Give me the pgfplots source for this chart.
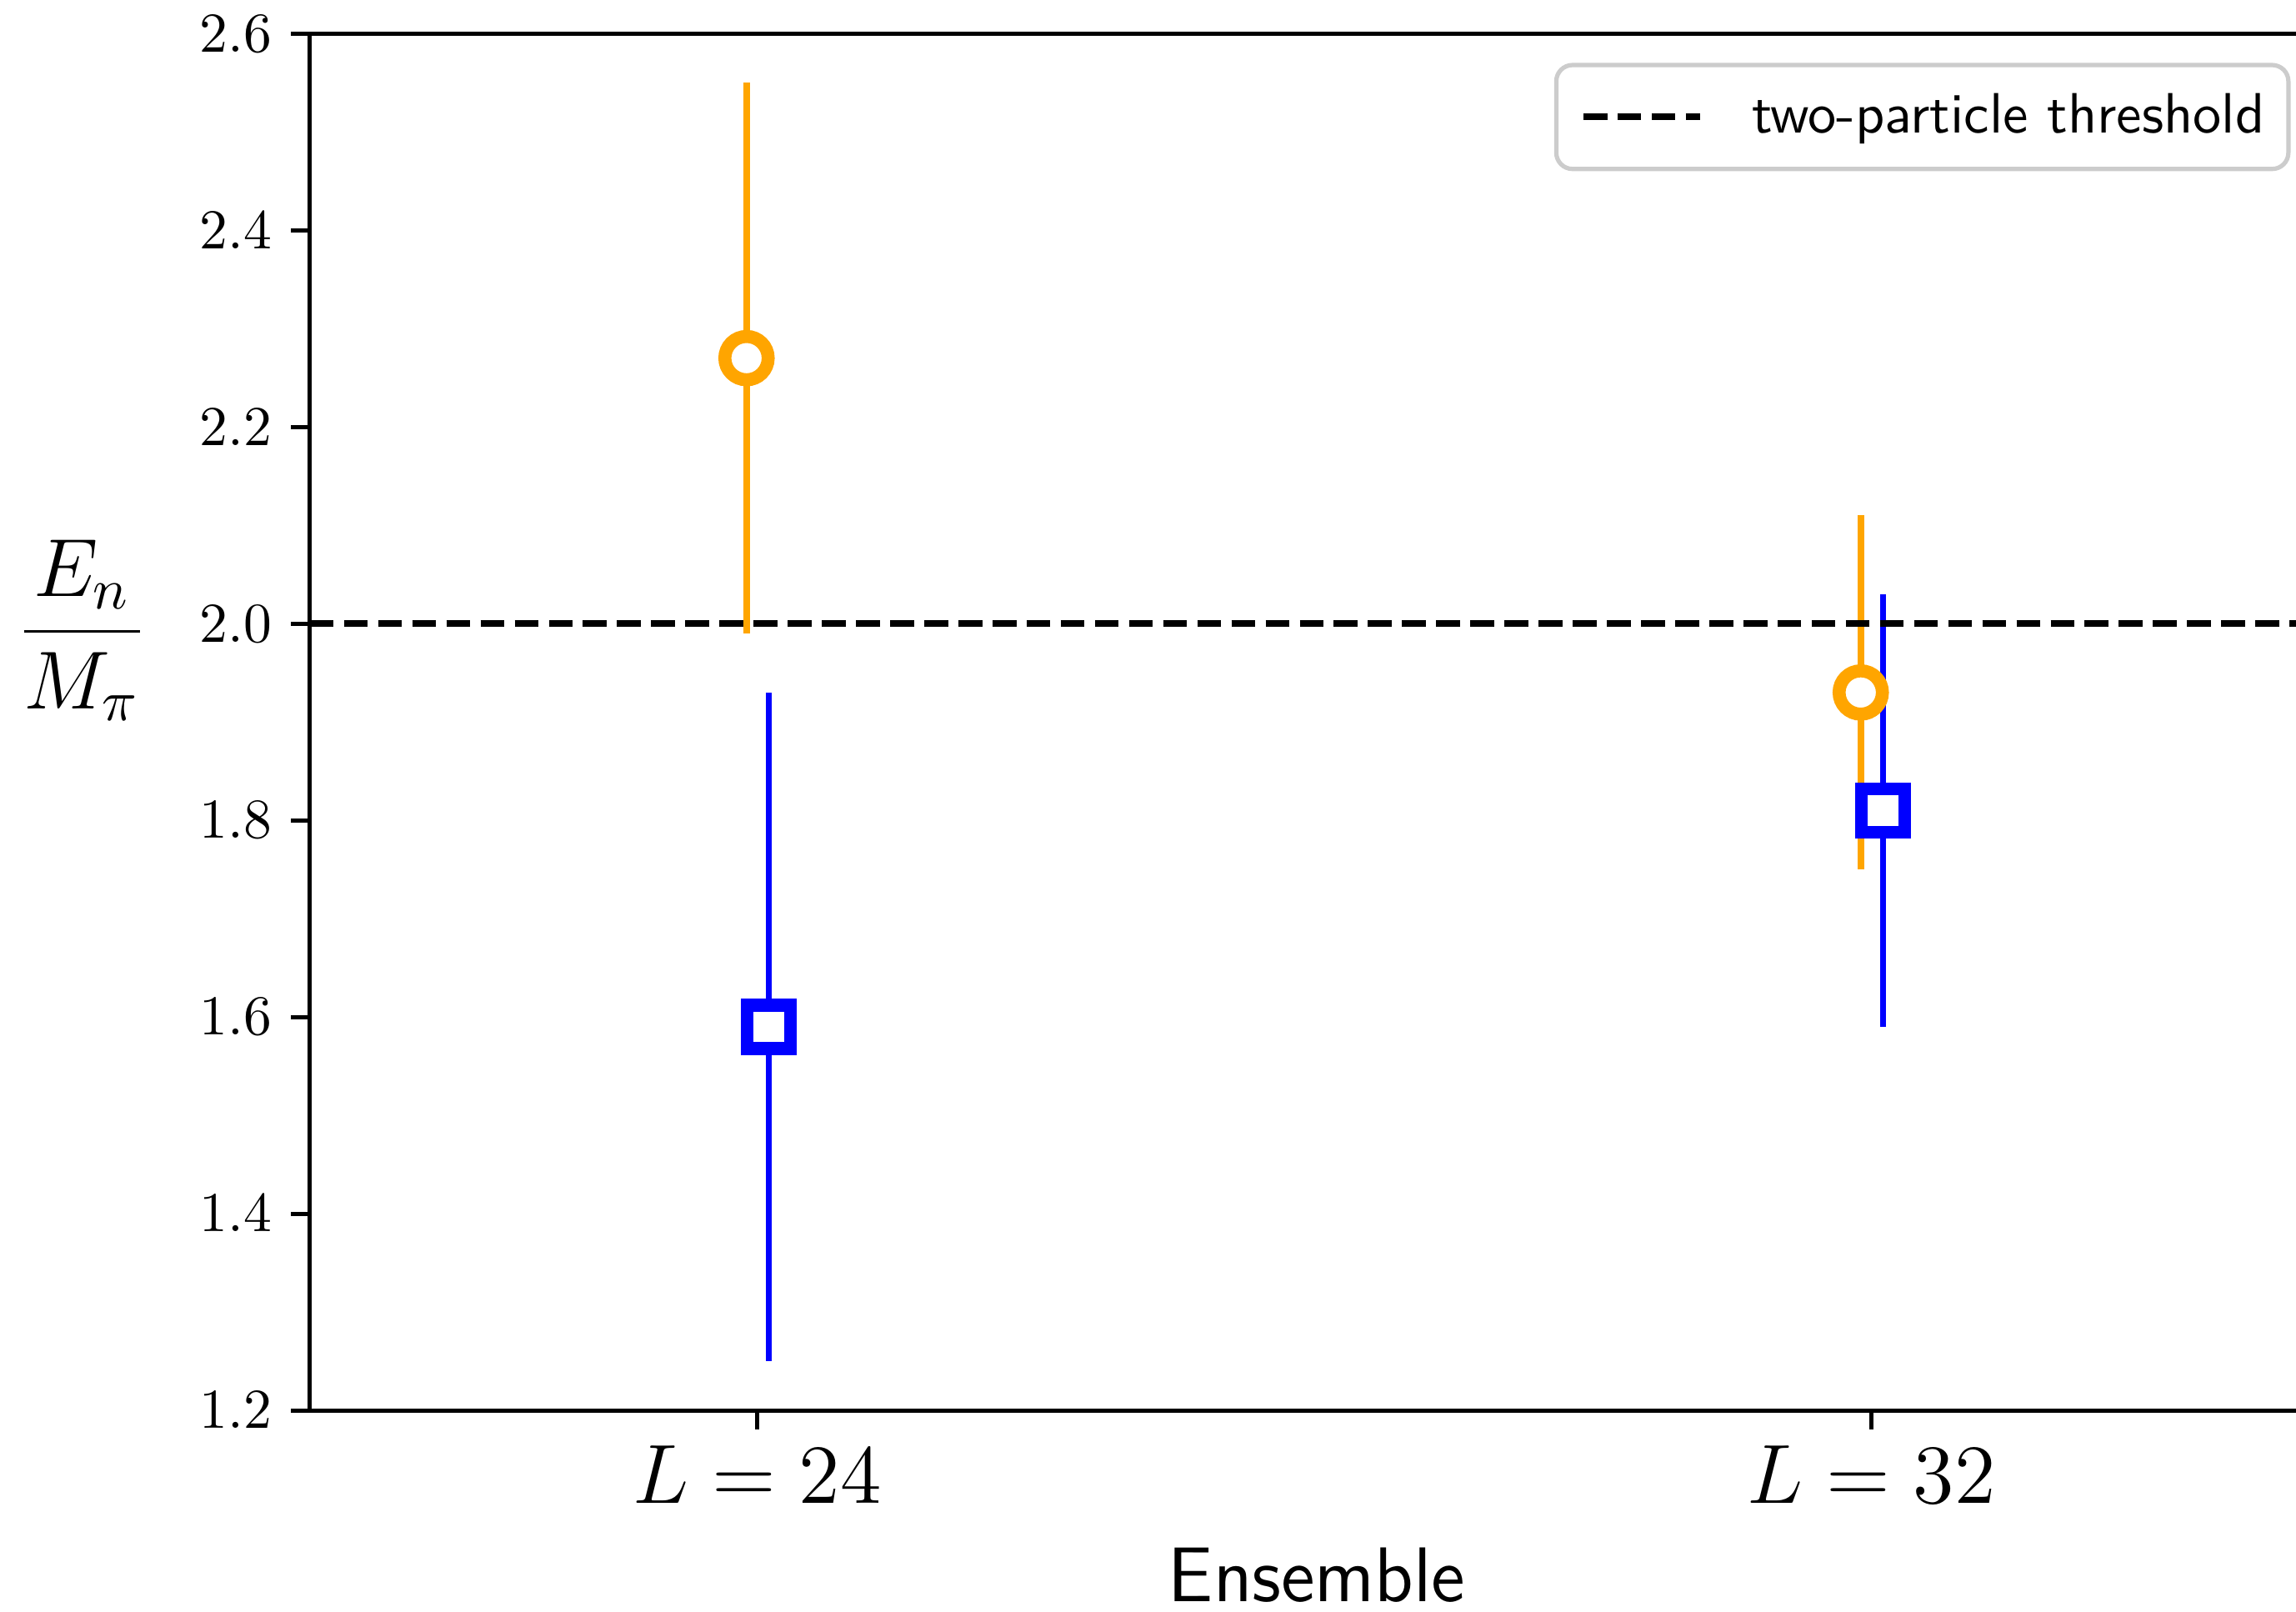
\RequirePackage{fix-cm}
\documentclass[border=0pt]{standalone}
\usepackage{pgfplots}
\pgfplotsset{compat=1.18}
\definecolor{mplorange}{HTML}{FFA500}
\definecolor{mplblue}{HTML}{0000FF}

\begin{document}
\begin{tikzpicture}
\begin{axis}[
  width=366.6pt, height=254.1pt, scale only axis,
  xmin=20.79, xmax=35.05, ymin=1.2, ymax=2.6,
  axis x line*=box, axis y line*=left,
  axis line style={line width=0.8pt},
  xtick={24,32}, xticklabels={$L=24$,$L=32$}, xtick pos=bottom,
  ytick={1.2,1.4,1.6,1.8,2.0,2.2,2.4,2.6}, ytick pos=left,
  tick align=outside, major tick length=3.5pt,
  tick style={line width=0.8pt, black},
  yticklabel style={font=\fontsize{10.4}{12}\selectfont,
    /pgf/number format/.cd, fixed, fixed zerofill, precision=1},
  xticklabel style={font=\fontsize{15.5}{18}\selectfont, inner sep=0pt, yshift=-2.8pt},
  xlabel={Ensemble},
  xlabel style={font=\sffamily\fontsize{14.3}{17}\selectfont, at={(axis description cs:0.507,0)},
    anchor=north, inner sep=0pt, yshift=-25.2pt},
  legend style={at={(rel axis cs:1,1)}, anchor=north east, xshift=-1.0pt, yshift=-5.4pt,
    draw=black!20, line width=0.8pt, rounded corners=3pt, fill=white,
    font=\sffamily\fontsize{10.5}{12}\selectfont, inner xsep=4.4pt, inner ysep=5.2pt,
    nodes={inner sep=0pt}, column sep=9pt},
  legend image code/.code={\draw[#1] (0pt,0pt) -- (21.5pt,0pt);},
]
% L=24 / L=32 levels, orange circles
\addplot[forget plot, only marks, mark=none,
  error bars/.cd, y dir=both, y explicit, error mark=none,
  error bar style={draw=mplorange, solid, line width=1.2pt}]
  coordinates {(23.925,2.27) +- (0,0.28) (31.925,1.93) +- (0,0.18)};
\addplot[forget plot, only marks, mark=*, mark size=4pt,
  mark options={draw=mplorange, fill=white, line width=2.4pt, solid}]
  coordinates {(23.925,2.27) (31.925,1.93)};
% blue squares
\addplot[forget plot, only marks, mark=none,
  error bars/.cd, y dir=both, y explicit, error mark=none,
  error bar style={draw=mplblue, solid, line width=1.2pt}]
  coordinates {(24.085,1.59) +- (0,0.34) (32.085,1.81) +- (0,0.22)};
\addplot[forget plot, only marks, mark=square*, mark size=4pt,
  mark options={draw=mplblue, fill=white, line width=2.4pt, solid}]
  coordinates {(24.085,1.59) (32.085,1.81)};
% threshold
\addplot[black, line width=1.2pt, dash pattern=on 4.4pt off 1.9pt]
  coordinates {(20.79,2) (35.05,2)};
\addlegendentry{two-particle threshold}
\coordinate (ylab) at (rel axis cs:0,0.5);
\coordinate (bl) at (rel axis cs:0,0);
\coordinate (tr) at (rel axis cs:1,1);
\end{axis}
\node[anchor=south east, inner sep=0pt, font=\fontsize{15.2}{18}\selectfont]
  at ([xshift=-30.0pt]ylab) {$\displaystyle\frac{E_n}{M_\pi}$};
\pgfresetboundingbox
\path ([xshift=-57.2pt, yshift=-37.2pt]bl) rectangle ([yshift=6.2pt]tr);
\end{tikzpicture}
\end{document}
